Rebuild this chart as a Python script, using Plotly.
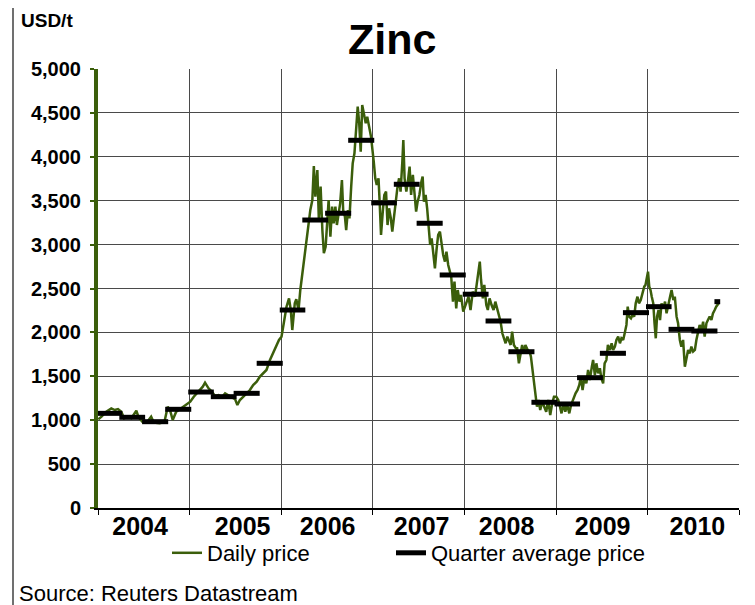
import pandas as pd
import plotly.graph_objects as go

# ---------------- data ----------------
daily_dates = [
    # 2004
    "2004-01-02", "2004-01-15", "2004-02-03", "2004-02-23", "2004-03-08", "2004-03-21",
    "2004-04-03", "2004-04-14", "2004-04-30", "2004-05-13", "2004-06-02", "2004-06-11",
    "2004-06-28", "2004-07-18", "2004-07-31", "2004-08-11", "2004-09-03", "2004-09-22",
    "2004-10-05", "2004-10-16", "2004-10-25", "2004-11-08", "2004-11-28", "2004-12-17",
    # 2005
    "2005-01-03", "2005-01-17", "2005-01-30", "2005-02-12", "2005-02-22", "2005-03-03",
    "2005-03-17", "2005-03-30", "2005-04-12", "2005-04-26", "2005-05-09", "2005-05-22",
    "2005-06-04", "2005-06-17", "2005-07-01", "2005-07-10", "2005-07-20", "2005-08-03",
    "2005-08-16", "2005-08-29", "2005-09-11", "2005-09-25", "2005-10-08", "2005-10-21",
    "2005-11-03", "2005-11-17", "2005-11-30", "2005-12-13", "2005-12-23",
    # 2006
    "2006-01-02", "2006-01-11", "2006-01-22", "2006-02-01", "2006-02-08", "2006-02-14",
    "2006-02-24", "2006-03-02", "2006-03-11", "2006-03-18", "2006-03-26", "2006-04-03",
    "2006-04-11", "2006-04-19", "2006-04-27", "2006-05-05", "2006-05-11", "2006-05-17",
    "2006-05-25", "2006-05-31", "2006-06-07", "2006-06-14", "2006-06-20", "2006-06-27",
    "2006-07-03", "2006-07-09", "2006-07-16", "2006-07-23", "2006-07-29", "2006-08-05",
    "2006-08-11", "2006-08-18", "2006-08-24", "2006-08-31", "2006-09-05", "2006-09-12",
    "2006-09-17", "2006-09-24", "2006-09-30", "2006-10-07", "2006-10-13", "2006-10-20",
    "2006-10-26", "2006-11-02", "2006-11-08", "2006-11-14", "2006-11-20", "2006-11-27",
    "2006-12-04", "2006-12-10", "2006-12-17", "2006-12-25",
    # 2007
    "2007-01-05", "2007-01-11", "2007-01-17", "2007-01-24", "2007-01-29", "2007-02-03",
    "2007-02-10", "2007-02-16", "2007-02-23", "2007-03-01", "2007-03-07", "2007-03-14",
    "2007-03-20", "2007-03-27", "2007-04-03", "2007-04-09", "2007-04-16", "2007-04-22",
    "2007-04-29", "2007-05-03", "2007-05-08", "2007-05-15", "2007-05-21", "2007-05-28",
    "2007-06-03", "2007-06-10", "2007-06-16", "2007-06-23", "2007-06-29", "2007-07-06",
    "2007-07-14", "2007-07-19", "2007-07-24", "2007-07-31", "2007-08-06", "2007-08-11",
    "2007-08-18", "2007-08-24", "2007-08-31", "2007-09-06", "2007-09-13", "2007-09-19",
    "2007-09-26", "2007-10-02", "2007-10-09", "2007-10-16", "2007-10-22", "2007-10-29",
    "2007-11-04", "2007-11-10", "2007-11-17", "2007-11-23", "2007-11-30", "2007-12-06",
    "2007-12-13", "2007-12-19", "2007-12-28",
    # 2008
    "2008-01-10", "2008-01-18", "2008-01-26", "2008-02-04", "2008-02-13", "2008-02-21",
    "2008-02-26", "2008-03-03", "2008-03-08", "2008-03-15", "2008-03-21", "2008-03-29",
    "2008-04-04", "2008-04-11", "2008-04-19", "2008-04-27", "2008-05-04", "2008-05-12",
    "2008-05-19", "2008-05-25", "2008-06-01", "2008-06-08", "2008-06-14", "2008-06-21",
    "2008-06-27", "2008-07-04", "2008-07-10", "2008-07-17", "2008-07-25", "2008-07-30",
    "2008-08-06", "2008-08-12", "2008-08-19", "2008-08-25", "2008-09-01", "2008-09-10",
    "2008-09-18", "2008-09-23", "2008-09-29", "2008-10-04", "2008-10-08", "2008-10-12",
    "2008-10-17", "2008-10-24", "2008-10-30", "2008-11-07", "2008-11-15", "2008-11-23",
    "2008-12-01", "2008-12-09", "2008-12-17", "2008-12-24",
    # 2009
    "2009-01-02", "2009-01-10", "2009-01-17", "2009-01-23", "2009-02-01", "2009-02-07",
    "2009-02-15", "2009-02-23", "2009-03-02", "2009-03-11", "2009-03-20", "2009-03-28",
    "2009-04-04", "2009-04-10", "2009-04-17", "2009-04-24", "2009-05-02", "2009-05-09",
    "2009-05-16", "2009-05-24", "2009-05-29", "2009-06-05", "2009-06-11", "2009-06-18",
    "2009-06-25", "2009-07-01", "2009-07-08", "2009-07-14", "2009-07-21", "2009-07-27",
    "2009-08-04", "2009-08-11", "2009-08-17", "2009-08-24", "2009-08-30", "2009-09-06",
    "2009-09-13", "2009-09-19", "2009-09-26", "2009-10-02", "2009-10-09", "2009-10-14",
    "2009-10-20", "2009-10-27", "2009-11-02", "2009-11-09", "2009-11-15", "2009-11-22",
    "2009-11-28", "2009-12-05", "2009-12-12", "2009-12-19", "2009-12-24",
    # 2010
    "2010-01-03", "2010-01-08", "2010-01-13", "2010-01-18", "2010-01-24", "2010-01-29",
    "2010-02-03", "2010-02-08", "2010-02-14", "2010-02-20", "2010-02-26", "2010-03-05",
    "2010-03-12", "2010-03-18", "2010-03-25", "2010-04-01", "2010-04-07", "2010-04-14",
    "2010-04-20", "2010-04-27", "2010-05-03", "2010-05-10", "2010-05-16", "2010-05-23",
    "2010-05-30", "2010-06-05", "2010-06-12", "2010-06-19", "2010-06-25", "2010-07-02",
    "2010-07-09", "2010-07-15", "2010-07-22", "2010-07-28", "2010-08-04", "2010-08-11",
    "2010-08-17", "2010-08-24", "2010-08-30", "2010-09-06", "2010-09-13", "2010-09-19",
    "2010-09-26", "2010-10-02", "2010-10-12",
]

daily_price = [
    # 2004
    1010, 1040, 1097, 1135, 1116, 1127,
    1097, 1022, 1040, 1022, 1108, 1033,
    976, 991, 1040, 972, 965, 980,
    1154, 1097, 1003, 1097, 1135, 1173,
    # 2005
    1211, 1268, 1306, 1344, 1382, 1427,
    1363, 1325, 1276, 1287, 1261, 1306,
    1287, 1268, 1238, 1173, 1230, 1268,
    1306, 1344, 1401, 1439, 1496, 1534,
    1572, 1686, 1762, 1857, 1914,
    # 2006
    1951, 2104, 2293, 2388, 2255, 2027,
    2331, 2377, 2255, 2483, 2673, 2862,
    3052, 3243, 3394, 3508, 3895, 3546,
    3850, 3280, 3660, 3166, 2901, 2976,
    3280, 3508, 3090, 3432, 3243, 3432,
    3223, 3357, 3470, 3736, 3394, 3318,
    3166, 3394, 3299, 3660, 3926, 4040,
    4268, 4571, 4382, 4059, 4590, 4496,
    4382, 4457, 4325, 4230,
    # 2007
    3944, 3755, 3679, 3755, 3451, 3110,
    3375, 3565, 3603, 3223, 3413, 3300,
    3147, 3337, 3451, 3641, 3755, 3603,
    3944, 4192, 3755, 3603, 3717, 3888,
    3565, 3793, 3603, 3375, 3489, 3565,
    3717, 3774, 3489, 3565, 3413, 3185,
    2996, 3072, 2919, 2730, 2958, 3110,
    3147, 2996, 2882, 2806, 2919, 2768,
    2692, 2635, 2350, 2578, 2274, 2483,
    2350, 2426, 2236,
    # 2008
    2331, 2407, 2255, 2464, 2407, 2597,
    2711, 2806, 2597, 2388, 2540, 2312,
    2255, 2388, 2312, 2255, 2350, 2255,
    2179, 2122, 1990, 1914, 1876, 1952,
    1914, 1857, 2009, 1857, 1819, 1819,
    1648, 1762, 1857, 1762, 1857, 1800,
    1781, 1724, 1572, 1458, 1344, 1250,
    1154, 1230, 1116, 1211, 1154, 1097,
    1230, 1059, 1192, 1268,
    # 2009
    1268, 1230, 1154, 1078, 1192, 1097,
    1173, 1078, 1173, 1249, 1306, 1344,
    1401, 1496, 1344, 1477, 1420, 1572,
    1458, 1610, 1686, 1515, 1648, 1534,
    1591, 1477, 1420, 1648, 1686, 1857,
    1800, 1876, 1800, 1838, 1914, 1952,
    1876, 1933, 1914, 1990, 2085, 2293,
    2179, 2160, 2198, 2179, 2331, 2407,
    2331, 2369, 2445, 2521, 2540,
    # 2010
    2692, 2521, 2483, 2407, 2331, 2104,
    1933, 2179, 2255, 2141, 2331, 2274,
    2350, 2217, 2331, 2407, 2483, 2369,
    2407, 2179, 2104, 1914, 1838, 1914,
    1610, 1724, 1800, 1762, 1838, 1781,
    1800, 1914, 1990, 2085, 2028, 2122,
    1952, 2104, 2141, 2179, 2141, 2217,
    2255, 2293, 2331,
]

quarters = [
    "2004Q1", "2004Q2", "2004Q3", "2004Q4",
    "2005Q1", "2005Q2", "2005Q3", "2005Q4",
    "2006Q1", "2006Q2", "2006Q3", "2006Q4",
    "2007Q1", "2007Q2", "2007Q3", "2007Q4",
    "2008Q1", "2008Q2", "2008Q3", "2008Q4",
    "2009Q1", "2009Q2", "2009Q3", "2009Q4",
    "2010Q1", "2010Q2", "2010Q3", "2010Q4",
]
quarter_avg = [
    1078, 1033, 983, 1124,
    1321, 1268, 1306, 1648,
    2255, 3280, 3357, 4188,
    3475, 3687, 3243, 2654,
    2435, 2130, 1780, 1204,
    1185, 1484, 1762, 2225,
    2293, 2035, 2016, 2350,
]

year_labels = ["2004", "2005", "2006", "2007", "2008", "2009", "2010"]
year_label_dates = ["2004-06-17", "2005-07-31", "2006-07-05", "2007-07-15",
                    "2008-06-18", "2009-07-06", "2010-07-19"]
year_bounds = ["2004-01-01", "2005-01-01", "2006-01-01", "2007-01-01",
               "2008-01-01", "2009-01-01", "2010-01-01", "2011-01-01"]
y_ticks = [0, 500, 1000, 1500, 2000, 2500, 3000, 3500, 4000, 4500, 5000]

# ---------------- style ----------------
GREEN = "#3B5E0B"
GRID = "#4a4a4a"
FONT = "Liberation Sans, Arial, sans-serif"
OFF = 8                      # page body margin of the html page
W, H = 755 - OFF, 605 - OFF
L, R, T, B = 98 - OFF, 16, 69 - OFF, 97
PW, PH = W - L - R, H - T - B


def px_x(p):
    """screen pixel -> paper x"""
    return (p - OFF - L) / PW


def px_y(p):
    """screen pixel -> paper y"""
    return (H - B - (p - OFF)) / PH


# quarter average segments
pad = pd.Timedelta(days=6)
last_day = pd.Timestamp(daily_dates[-1])
qx, qy = [], []
for q, v in zip(quarters, quarter_avg):
    per = pd.Period(q, freq="Q")
    s = per.start_time
    e = min(per.end_time.normalize() + pd.Timedelta(days=1), last_day)
    qx += [(s - pad).strftime("%Y-%m-%d"), (e + pad).strftime("%Y-%m-%d"), None]
    qy += [v, v, None]

fig = go.Figure()
fig.add_trace(go.Scatter(
    x=daily_dates, y=daily_price, mode="lines", name="Daily price",
    line=dict(color=GREEN, width=2.5), legend="legend",
))
fig.add_trace(go.Scatter(
    x=qx, y=qy, mode="lines", name="Quarter average price",
    line=dict(color="black", width=5), legend="legend2",
))

fig.update_layout(
    width=W, height=H,
    margin=dict(l=L, r=R, t=T, b=B, pad=0),
    paper_bgcolor="white", plot_bgcolor="white",
    font=dict(family=FONT, color="black"),
    showlegend=True,
    legend=dict(orientation="h", x=px_x(167), y=px_y(553), xanchor="left", yanchor="middle",
                font=dict(family=FONT, size=22, color="black"), bgcolor="rgba(0,0,0,0)",
                borderwidth=0),
    legend2=dict(orientation="h", x=px_x(391), y=px_y(553), xanchor="left", yanchor="middle",
                 font=dict(family=FONT, size=22, color="black"), bgcolor="rgba(0,0,0,0)",
                 borderwidth=0),
    xaxis=dict(
        type="date", range=["2004-01-01", "2011-01-01"],
        tickmode="array", tickvals=year_label_dates, ticktext=year_labels,
        ticks="", showgrid=False,
        tickfont=dict(family=FONT, size=25, color="black", weight="bold"),
        ticklabelstandoff=-5,
        showline=True, linecolor="black", linewidth=1.5,
        minor=dict(tickmode="array", tickvals=year_bounds, ticks="outside", ticklen=5,
                   tickcolor="black", tickwidth=1.2, showgrid=True, gridcolor=GRID,
                   gridwidth=1.3),
        zeroline=False,
    ),
    yaxis=dict(
        range=[0, 5000], tickmode="array", tickvals=y_ticks, tickformat=",",
        ticks="outside", ticklen=4, tickwidth=2, tickcolor=GREEN,
        showline=True, linecolor=GREEN, linewidth=4,
        showgrid=True, gridcolor=GRID, gridwidth=1.3,
        tickfont=dict(family=FONT, size=20, color="black", weight="bold"),
        ticklabelstandoff=5, zeroline=False,
    ),
    shapes=[
        dict(type="line", xref="paper", yref="paper", x0=px_x(13), x1=px_x(756),
             y0=px_y(6), y1=px_y(6), line=dict(color="#707070", width=2), layer="above"),
        dict(type="line", xref="paper", yref="paper", x0=px_x(13), x1=px_x(13),
             y0=px_y(6), y1=px_y(606), line=dict(color="#707070", width=2), layer="above"),
    ],
    annotations=[
        dict(text="Zinc", xref="paper", yref="paper", x=px_x(392), y=px_y(39),
             xanchor="center", yanchor="middle", showarrow=False,
             font=dict(family=FONT, size=43, color="black", weight="bold")),
        dict(text="USD/t", xref="paper", yref="paper", x=px_x(19), y=px_y(20),
             xanchor="left", yanchor="middle", showarrow=False,
             font=dict(family=FONT, size=19, color="black", weight="bold")),
        dict(text="Source: Reuters Datastream", xref="paper", yref="paper",
             x=px_x(17), y=px_y(593), xanchor="left", yanchor="middle", showarrow=False,
             font=dict(family=FONT, size=22, color="black")),
    ],
)

fig.write_html("out.html")
